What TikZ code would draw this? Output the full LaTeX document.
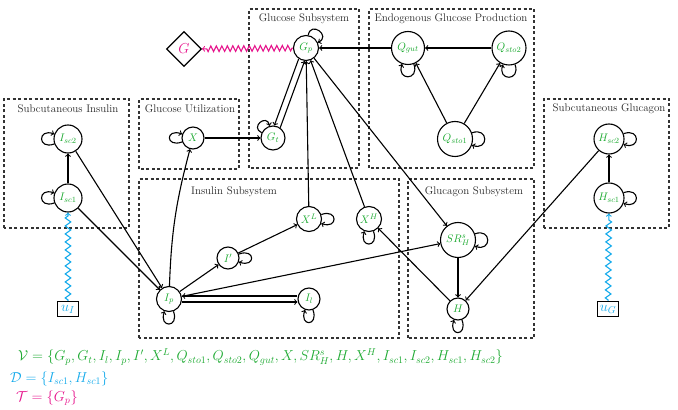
\documentclass[tikz,border=0pt]{standalone}
\usetikzlibrary{shapes.geometric,decorations.pathmorphing}
\definecolor{vgreen}{RGB}{30,170,50}
\definecolor{vcyan}{RGB}{20,170,235}
\definecolor{vmag}{RGB}{230,20,140}
\begin{document}
\begin{tikzpicture}[x=1pt,y=1pt,
  every loop/.style={},
  st/.style={circle,draw,line width=1.1pt,inner sep=0pt,text=vgreen,minimum size=#1,font=\fontsize{11}{13}\selectfont},
  inbox/.style={rectangle,draw,line width=1.1pt,minimum width=21pt,minimum height=15pt,inner sep=0pt,text=vcyan,font=\fontsize{14}{16}\selectfont},
  box/.style={draw=black!80,line width=1.1pt,dash pattern=on 3pt off 2.5pt},
  ttl/.style={font=\fontsize{11}{13}\selectfont,text=black!85,inner sep=0pt},
  con/.style={line width=1.1pt,->},
  lp/.style={line width=1.1pt,->},
  zz/.style={line width=1.1pt,->,decorate,decoration={zigzag,segment length=#1,amplitude=2.8pt,pre length=1pt,post length=3pt}},
  eq/.style={anchor=west,inner sep=0pt,font=\fontsize{13.8}{16}\selectfont}]
\useasboundingbox (0,0) rectangle (678,410);
% boxes
\draw[box] (249,242) rectangle (359,401);
\draw[box] (369,242) rectangle (534,401);
\draw[box] (139,241) rectangle (239,311);
\draw[box] (4,182) rectangle (129,311);
\draw[box] (139,72) rectangle (399,231);
\draw[box] (408,72) rectangle (534,231);
\draw[box] (544,182) rectangle (669,311);
% titles
\node[ttl] (tGS) at (304,391) {Glucose Subsystem};
\node[ttl] (tEGP) at (451,391) {Endogenous Glucose Production};
\node[ttl] (tGU) at (190,301) {Glucose Utilization};
\node[ttl] (tSI) at (68,301) {Subcutaneous Insulin};
\node[ttl] (tIS) at (234,218) {Insulin Subsystem};
\node[ttl] (tGlS) at (474,218) {Glucagon Subsystem};
\node[ttl] (tSG) at (609,301) {Subcutaneous Glucagon};
% nodes
\node[st=25] (Gp) at (306,362) {$G_p$};
\node[st=24] (Gt) at (273,272) {$G_t$};
\node[st=22] (X) at (193,272) {$X$};
\node[diamond,draw,line width=1.1pt,minimum size=35pt,inner sep=0pt,text=vmag,font=\fontsize{15}{17}\selectfont] (G) at (184,361) {$G$};
\node[st=33] (Qgut) at (408,362) {$Q_{gut}$};
\node[st=34] (Qs2) at (509,362) {$Q_{sto2}$};
\node[st=35] (Qs1) at (455,271) {$Q_{sto1}$};
\node[st=28] (Isc2) at (68,271) {$I_{sc2}$};
\node[st=28] (Isc1) at (68,212) {$I_{sc1}$};
\node[inbox] (uI) at (68,101) {$u_I$};
\node[st=25] (Ip) at (169,111) {$I_p$};
\node[st=22] (Ipr) at (228,152) {$I'$};
\node[st=25] (XL) at (309,191) {$X^L$};
\node[st=25] (XH) at (369,191) {$X^H$};
\node[st=22] (Il) at (309,111) {$I_l$};
\node[st=35] (SR) at (458,170) {$SR_H^s$};
\node[st=22] (H) at (458,101) {$H$};
\node[st=30] (Hsc2) at (609,271) {$H_{sc2}$};
\node[st=30] (Hsc1) at (609,212) {$H_{sc1}$};
\node[inbox] (uG) at (608,101) {$u_G$};
% connectors
\draw[con] (Isc1) -- (Isc2);
\draw[con] (Isc2) -- (Ip);
\draw[con] (Isc1) -- (Ip);
\draw[con] (Ip) to[out=88,in=255] (X);
\draw[con] (X) -- (Gt);
\draw[con] (Gp.236) -- (Gt.84);
\draw[con] (Gt.55) -- (Gp.264);
\draw[con] (Qgut) -- (Gp);
\draw[con] (Qs2) -- (Qgut);
\draw[con] (Qs1) -- (Qgut);
\draw[con] (Qs1) -- (Qs2);
\draw[con] (XL) -- (Gp);
\draw[con] (XH) -- (Gp);
\draw[con] (Gp) -- (SR);
\draw[con] (Ip) -- (Ipr);
\draw[con] (Ipr) -- (XL);
\draw[con] (Ip) -- (SR);
\draw[con] ([yshift=3pt]Il.west) -- ([yshift=3pt]Ip.east);
\draw[con] ([yshift=-3pt]Ip.east) -- ([yshift=-3pt]Il.west);
\draw[con] (SR) -- (H);
\draw[con] (H) -- (XH);
\draw[con] (Hsc2) -- (H);
\draw[con] (Hsc1) -- (Hsc2);
\draw[zz=8pt,vcyan] (uI) -- (Isc1);
\draw[zz=8pt,vcyan] (uG) -- (Hsc1);
\draw[zz=5.5pt,vmag] (Gp) -- (G);
% loops
\draw[lp] (Isc2) to[loop,out=200,in=160,min distance=18pt] (Isc2);
\draw[lp] (Isc1) to[loop,out=200,in=160,min distance=18pt] (Isc1);
\draw[lp] (X) to[loop,out=200,in=160,min distance=18pt] (X);
\draw[lp] (Gt) to[loop,out=155,in=105,min distance=13pt] (Gt);
\draw[lp] (Gp) to[loop,out=80,in=25,min distance=15pt] (Gp);
\draw[lp] (Qgut) to[loop,out=-70,in=-110,min distance=18pt] (Qgut);
\draw[lp] (Qs2) to[loop,out=-70,in=-110,min distance=18pt] (Qs2);
\draw[lp] (XH) to[loop,out=-70,in=-110,min distance=18pt] (XH);
\draw[lp] (Ip) to[loop,out=-70,in=-110,min distance=18pt] (Ip);
\draw[lp] (Il) to[loop,out=-70,in=-110,min distance=18pt] (Il);
\draw[lp] (H) to[loop,out=-70,in=-110,min distance=18pt] (H);
\draw[lp] (Qs1) to[loop,out=20,in=-20,min distance=18pt] (Qs1);
\draw[lp] (Ipr) to[loop,out=20,in=-20,min distance=18pt] (Ipr);
\draw[lp] (XL) to[loop,out=20,in=-20,min distance=18pt] (XL);
\draw[lp] (SR) to[loop,out=20,in=-20,min distance=18pt] (SR);
\draw[lp] (Hsc2) to[loop,out=20,in=-20,min distance=18pt] (Hsc2);
\draw[lp] (Hsc1) to[loop,out=20,in=-20,min distance=18pt] (Hsc1);
% sets
\node[eq,text=vgreen] (tV) at (18,53) {$\mathcal{V}=\{G_p,G_t,I_l,I_p,I',X^L,Q_{sto1},Q_{sto2},Q_{gut},X,SR_H^s,H,X^H,I_{sc1},I_{sc2},H_{sc1},H_{sc2}\}$};
\node[eq,text=vcyan] (tD) at (10,31) {$\mathcal{D}=\{I_{sc1},H_{sc1}\}$};
\node[eq,text=vmag] (tT) at (16,12) {$\mathcal{T}=\{G_p\}$};
\end{tikzpicture}
\end{document}
